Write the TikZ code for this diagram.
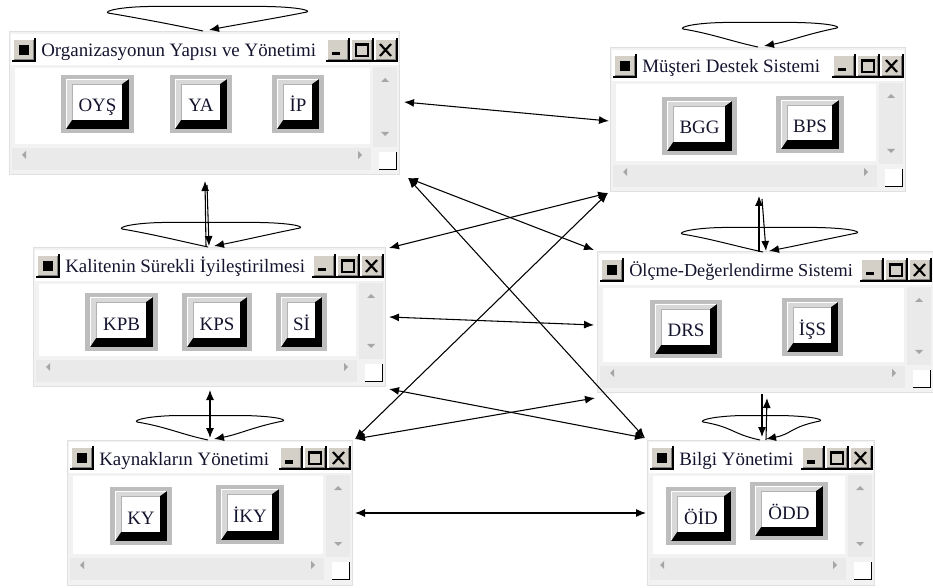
\documentclass[tikz,border=0pt]{standalone}
\usepackage{fontspec}
\setmainfont{Liberation Serif}
\usetikzlibrary{arrows.meta}

\definecolor{framegray}{HTML}{F2F2F2}
\definecolor{edgegray}{HTML}{E0E0E0}
\definecolor{scrollgray}{HTML}{EAEAEA}
\definecolor{facegray}{HTML}{D4D0C8}
\definecolor{rimgray}{HTML}{BDBDBD}
\definecolor{bevelgray}{HTML}{D8D8D8}
\definecolor{arrowgray}{HTML}{A6A6A6}
\definecolor{inkblue}{HTML}{14142E}

\tikzset{
  tip/.tip={Latex[length=7.5pt,width=6pt]},
  conn/.style={line width=0.8pt, tip-tip},
  oneway/.style={line width=0.8pt, -tip},
  selfloop/.style={line width=0.75pt, -tip},
  titletext/.style={font=\fontsize{14.2pt}{16pt}\selectfont, text=inkblue, inner sep=0pt},
  labeltext/.style={font=\fontsize{14.2pt}{16pt}\selectfont, text=inkblue, inner sep=0pt},
}

% raised 3D caption button: x0 y0 x1 y1
\newcommand\capbutton[4]{%
  \fill[facegray] (#1,#2) rectangle (#3,#4);
  \draw[white, line width=1.2pt] (#1+0.8,#4-1) -- (#1+0.8,#2+0.8) -- (#3-1,#2+0.8);
  \draw[black, line width=1.2pt] (#1,#4-0.8) -- (#3-0.8,#4-0.8) -- (#3-0.8,#2);
  \draw[gray, line width=0.75pt] (#1+2,#4-2.2) -- (#3-2.2,#4-2.2) -- (#3-2.2,#2+2);
}

% window frame: x0 y0 x1 y1 name title
\newcommand\uiwin[6]{%
  \fill[framegray] (#1,#2) rectangle (#3,#4);
  \draw[edgegray, line width=0.75pt] (#1,#2) rectangle (#3,#4);
  \fill[white] (#1+2,#2+2) rectangle (#3-1,#2+33);
  % system menu button
  \capbutton{#1+3}{#2+6}{#1+27}{#2+30}
  \fill[black] (#1+10,#2+13) rectangle (#1+20,#2+23);
  \node[titletext, anchor=base west] (#5-title) at (#1+32,#2+25) {#6};
  % minimize
  \capbutton{#3-73}{#2+6}{#3-49}{#2+30}
  \fill[black] (#3-67,#2+20) rectangle (#3-59,#2+23.5);
  % maximize
  \capbutton{#3-49}{#2+6}{#3-25}{#2+30}
  \draw[black, line width=1pt] (#3-43,#2+12) rectangle (#3-31,#2+24);
  \draw[black, line width=1.6pt] (#3-43,#2+12.8) -- (#3-31,#2+12.8);
  % close
  \capbutton{#3-25}{#2+6}{#3-1}{#2+30}
  \draw[black, line width=1.6pt] (#3-19,#2+12) -- (#3-8,#2+24) (#3-19,#2+24) -- (#3-8,#2+12);
  % client area
  \fill[white] (#1+6,#2+36) rectangle (#3-29,#4-31);
  % scroll bars
  \fill[scrollgray] (#3-26,#2+35) rectangle (#3-2,#4-28);
  \fill[scrollgray] (#1+3,#4-27) rectangle (#3-28,#4-5);
  \fill[arrowgray] (#3-18,#2+50) -- (#3-14,#2+46) -- (#3-10,#2+50) -- cycle;
  \fill[arrowgray] (#3-18,#4-43) -- (#3-14,#4-39) -- (#3-10,#4-43) -- cycle;
  \fill[arrowgray] (#1+17,#4-24) -- (#1+13,#4-20) -- (#1+17,#4-16) -- cycle;
  \fill[arrowgray] (#3-41,#4-24) -- (#3-37,#4-20) -- (#3-41,#4-16) -- cycle;
  % size box
  \fill[white] (#3-20,#4-23) rectangle (#3-2,#4-5);
  \draw[black, line width=1.2pt] (#3-20,#4-5.5) -- (#3-2.5,#4-5.5) -- (#3-2.5,#4-23);
}

% raised push button inside a window: name x0 y0 x1 y1 label
\newcommand\uibtn[6]{%
  \fill[rimgray] (#2,#3) rectangle (#4,#5);
  \fill[black] (#2+5,#3+4) rectangle (#4-5,#5-4);
  \fill[bevelgray] (#2+5,#3+4) -- (#4-5,#3+4) -- (#4-12,#3+9) -- (#2+11,#3+9)
    -- (#2+11,#5-13) -- (#2+5,#5-4) -- cycle;
  \draw[white, line width=0.9pt] (#2+5.5,#5-5) -- (#2+5.5,#3+4.5) -- (#4-6,#3+4.5);
  \fill[white] (#2+11,#3+9) rectangle (#4-12,#5-13);
  \draw[gray!60, line width=0.6pt] (#2+11,#5-13) -- (#2+11,#3+9) -- (#4-12,#3+9);
  \node[labeltext, anchor=base] (#1) at ({(#2+#4)/2},{(#3+#5)/2+8}) {#6};
}

% self loop above a window: centre x, bottom y, left tip x, right tip x
\newcommand\uiloop[4]{%
  \draw[selfloop] (#1-2,#2) .. controls (#1-30,#2-6) and (#3+30,#2-13) .. (#3,#2-18)
    .. controls (#3-4,#2-20) and (#3+12,#2-24) .. (#3+40,#2-24.5)
    -- (#4-40,#2-24.5)
    .. controls (#4-12,#2-24) and (#4+4,#2-21) .. (#4,#2-19)
    .. controls (#4-30,#2-13) and (#1+30,#2-6) .. (#1+4,#2-1);
}

\begin{document}
\begin{tikzpicture}[x=0.75pt, y=-0.75pt]
  \useasboundingbox (0,0) rectangle (933,588);
  \fill[white] (0,0) rectangle (933,588);

  % windows
  \uiwin{9}{32}{399}{175}{oys}{Organizasyonun Yapısı ve Yönetimi}
  \uibtn{oysb}{61}{75}{134}{133}{OYŞ}
  \uibtn{ya}{170}{75}{232}{133}{YA}
  \uibtn{ip}{272}{75}{324}{133}{İP}

  \uiwin{610}{48}{905}{192}{mus}{Müşteri Destek Sistemi}
  \uibtn{bgg}{662}{97}{737}{155}{BGG}
  \uibtn{bps}{776}{96}{844}{153}{BPS}

  \uiwin{33}{248}{385}{387}{kal}{Kalitenin Sürekli İyileştirilmesi}
  \uibtn{kpb}{85}{293}{158}{351}{KPB}
  \uibtn{kps}{182}{293}{252}{351}{KPS}
  \uibtn{si}{276}{293}{327}{351}{Sİ}

  \uiwin{597}{252}{933}{393}{olc}{\fontsize{13.7pt}{16pt}\selectfont Ölçme-Değerlendirme Sistemi}
  \uibtn{drs}{650}{300}{722}{358}{DRS}
  \uibtn{iss}{782}{298}{843}{356}{İŞS}

  \uiwin{67}{440}{352}{585}{kay}{Kaynakların Yönetimi}
  \uibtn{ky}{110}{487}{172}{545}{KY}
  \uibtn{iky}{216}{485}{284}{544}{İKY}

  \uiwin{647}{440}{874}{585}{bil}{Bilgi Yönetimi}
  \uibtn{oid}{666}{487}{736}{545}{ÖİD}
  \uibtn{odd}{750}{482}{828}{540}{ÖDD}

  % self loops
  \uiloop{205}{31}{108}{307}
  \uiloop{760}{47}{683}{837}
  \uiloop{210}{247}{122}{300}
  \uiloop{765}{252}{682}{857}
  \uiloop{210}{440}{137}{283}
  \uiloop{762}{440}{703}{820}

  % connector end points
  \coordinate (oys-e)  at (404,102);
  \coordinate (oys-se) at (408,178);
  \coordinate (oys-s1) at (205,181);
  \coordinate (oys-s2) at (207,185);
  \coordinate (mus-w)  at (609,121);
  \coordinate (mus-sw) at (608,193);
  \coordinate (mus-s1) at (759,196);
  \coordinate (mus-s2) at (762,199);
  \coordinate (kal-n1) at (206,246);
  \coordinate (kal-n2) at (209,246);
  \coordinate (kal-ne) at (389,248);
  \coordinate (kal-e)  at (389,317);
  \coordinate (kal-se) at (389,389);
  \coordinate (kal-s)  at (210,390);
  \coordinate (olc-nw) at (594,250);
  \coordinate (olc-n1) at (759,252);
  \coordinate (olc-n2) at (766,251);
  \coordinate (olc-w)  at (594,325);
  \coordinate (olc-sw) at (595,398);
  \coordinate (olc-s1) at (767,398);
  \coordinate (olc-s2) at (762,394);
  \coordinate (kay-n)  at (210,438);
  \coordinate (kay-ne) at (355,439);
  \coordinate (kay-e)  at (355,513);
  \coordinate (bil-nw) at (645,438);
  \coordinate (bil-w)  at (646,513);
  \coordinate (bil-n1) at (766,440);
  \coordinate (bil-n2) at (762,437);

  % connectors
  \draw[conn] (oys-e) -- (mus-w);
  \draw[oneway] (kal-n1) -- (oys-s1);
  \draw[oneway] (oys-s2) -- (kal-n2);
  \draw[oneway] (olc-n1) -- (mus-s1);
  \draw[oneway] (mus-s2) -- (olc-n2);
  \draw[conn] (kal-s) -- (kay-n);
  \draw[oneway] (bil-n1) -- (olc-s1);
  \draw[oneway] (olc-s2) -- (bil-n2);
  \draw[conn] (oys-se) -- (olc-nw);
  \draw[conn] (oys-se) -- (bil-nw);
  \draw[conn] (mus-sw) -- (kal-ne);
  \draw[conn] (mus-sw) -- (kay-ne);
  \draw[conn] (kal-e) -- (olc-w);
  \draw[conn] (kal-se) -- (bil-nw);
  \draw[conn] (olc-sw) -- (kay-ne);
  \draw[conn] (kay-e) -- (bil-w);
\end{tikzpicture}
\end{document}
